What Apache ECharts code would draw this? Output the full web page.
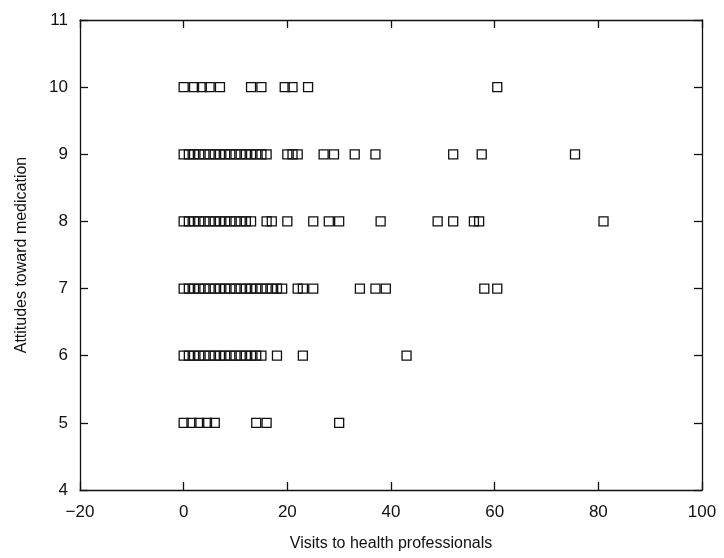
<!DOCTYPE html>
<html>
<head>
<meta charset="utf-8">
<script src="https://cdn.jsdelivr.net/npm/echarts@6/dist/echarts.min.js"></script>
<style>
html,body{margin:0;padding:0;background:#fff;}
#c{width:724px;height:558px;}
</style>
</head>
<body>
<div id="c"></div>
<script>
// Attitude levels (y) and visit counts (x)
const levels = [10, 9, 8, 7, 6, 5];
const visitsAt10 = [0, 2, 3.5, 5, 7, 13, 15, 19.5, 21, 24, 60.5];
const visitsAt9 = [0, 1, 2, 3, 4, 5, 6, 7, 8, 9, 10, 11, 12, 13, 14, 15, 16, 20, 21, 22, 27, 29, 33, 37, 52, 57.5, 75.5];
const visitsAt8 = [0, 1, 2, 3, 4, 5, 6, 7, 8, 9, 10, 11, 12, 13, 16, 17, 20, 25, 28, 30, 38, 49, 52, 56, 57, 81];
const visitsAt7 = [0, 1, 2, 3, 4, 5, 6, 7, 8, 9, 10, 11, 12, 13, 14, 15, 16, 17, 18, 19, 22, 23, 25, 34, 37, 39, 58, 60.5];
const visitsAt6 = [0, 1, 2, 3, 4, 5, 6, 7, 8, 9, 10, 11, 12, 13, 14, 15, 18, 23, 43];
const visitsAt5 = [0, 1.5, 3, 4.5, 6, 14, 16, 30];
const xTicks = [-20, 0, 20, 40, 60, 80, 100];
const yTicks = [4, 5, 6, 7, 8, 9, 10, 11];
const xTitle = 'Visits to health professionals';
const yTitle = 'Attitudes toward medication';

const rows = [visitsAt10, visitsAt9, visitsAt8, visitsAt7, visitsAt6, visitsAt5];
const points = [];
rows.forEach((r, i) => r.forEach(v => points.push([v, levels[i]])));

const font = 'Liberation Sans, Arial, Helvetica, sans-serif';
const axisLine = {show: true, onZero: false, lineStyle: {color: '#111', width: 1.3}};
const tick = {show: true, inside: true, length: 8, lineStyle: {color: '#111', width: 1.3}};

const chart = echarts.init(document.getElementById('c'), null, {renderer: 'canvas'});
chart.setOption({
  backgroundColor: '#ffffff',
  animation: false,
  grid: {left: 80, right: 22, top: 20, bottom: 68, containLabel: false},
  xAxis: [{
    type: 'value', position: 'bottom',
    min: xTicks[0], max: xTicks[xTicks.length - 1], interval: 20,
    axisLine: axisLine, axisTick: tick, splitLine: {show: false},
    axisLabel: {color: '#111', fontFamily: font, fontSize: 17, margin: 14,
      formatter: v => String(v).replace('-', '\u2212')},
    name: xTitle, nameLocation: 'middle', nameGap: 46,
    nameTextStyle: {color: '#111', fontFamily: font, fontSize: 16}
  }, {
    type: 'value', position: 'top',
    min: xTicks[0], max: xTicks[xTicks.length - 1], interval: 20,
    axisLine: axisLine, axisTick: tick, splitLine: {show: false},
    axisLabel: {show: false}
  }],
  yAxis: [{
    type: 'value', position: 'left',
    min: yTicks[0], max: yTicks[yTicks.length - 1], interval: 1,
    axisLine: axisLine, axisTick: tick, splitLine: {show: false},
    axisLabel: {color: '#111', fontFamily: font, fontSize: 17, margin: 12},
    name: yTitle, nameLocation: 'middle', nameGap: 50, nameRotate: 90,
    nameTextStyle: {color: '#111', fontFamily: font, fontSize: 16}
  }, {
    type: 'value', position: 'right',
    min: yTicks[0], max: yTicks[yTicks.length - 1], interval: 1,
    axisLine: axisLine, axisTick: tick, splitLine: {show: false},
    axisLabel: {show: false}
  }],
  series: [{
    type: 'scatter',
    data: points,
    symbol: 'rect',
    symbolSize: 9,
    itemStyle: {color: 'rgba(0,0,0,0)', borderColor: '#111', borderWidth: 1.3, opacity: 1}
  }]
});
</script>
</body>
</html>
